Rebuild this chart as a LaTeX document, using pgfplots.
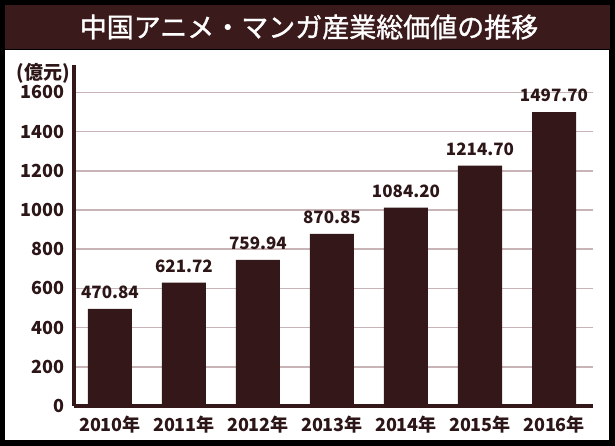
\documentclass[border=0pt]{standalone}
\usepackage{fontspec}
\setmainfont{Noto Sans CJK JP}
\newfontfamily\titlefont{Noto Sans CJK JP}[FakeBold=1.2]
\usepackage{pgfplots}
\usepackage{pgfplotstable}
\pgfplotsset{compat=1.18}
\definecolor{titlebrown}{RGB}{58,26,27}
\definecolor{barbrown}{RGB}{52,24,25}
\definecolor{gridpink}{RGB}{200,180,182}
\definecolor{textbrown}{RGB}{45,22,23}

\pgfplotstableread{
x h lab
0 495 470.84
1 629 621.72
2 745 759.94
3 878 870.85
4 1012 1084.20
5 1226 1214.70
6 1500 1497.70
}\datatable

\begin{document}
\begin{tikzpicture}
\useasboundingbox (0pt,0pt) rectangle (615pt,446pt);
\fill[black] (0pt,0pt) rectangle (615pt,446pt);
\fill[titlebrown] (5pt,397pt) rectangle (610pt,441pt);
\fill[white] (5pt,6pt) rectangle (609pt,396pt);
\node[white, font=\titlefont\fontsize{27}{27}\selectfont, inner sep=0] at (309pt,419pt) {中国アニメ・マンガ産業総価値の推移};
\node[textbrown, font=\bfseries\fontsize{19}{19}\selectfont, anchor=east, inner sep=0] at (70pt,373pt) {(億元)};
\begin{axis}[at={(74pt,40pt)}, anchor=south west, scale only axis,
  width=519pt, height=341pt,
  xmin=-0.486, xmax=6.527, ymin=0, ymax=1740,
  axis x line=bottom, axis y line=left,
  axis line style={barbrown, line width=4pt, -},
  ybar, bar width=44pt,
  ytick={0,200,...,1600},
  xtick={0,...,6},
  xticklabels={2010年,2011年,2012年,2013年,2014年,2015年,2016年},
  major tick length=0pt,
  ymajorgrids, grid style={gridpink, line width=1.5pt},
  tick label style={font=\bfseries\fontsize{18}{18}\selectfont, text=textbrown},
  /pgf/number format/assume math mode=true,
  /pgf/number format/1000 sep={},
  yticklabel style={anchor=east, inner sep=0pt, xshift=-9pt},
  xticklabel style={anchor=center, inner sep=0pt, yshift=-19pt},
  clip=false,
]
\addplot[fill=barbrown, draw=none,
  nodes near coords, point meta=explicit symbolic,
  nodes near coords style={anchor=center, yshift=16.5pt, inner sep=0pt,
    font=\bfseries\fontsize{17}{17}\selectfont, text=textbrown}]
  table[x=x, y=h, meta=lab] {\datatable};
\end{axis}
\end{tikzpicture}
\end{document}
